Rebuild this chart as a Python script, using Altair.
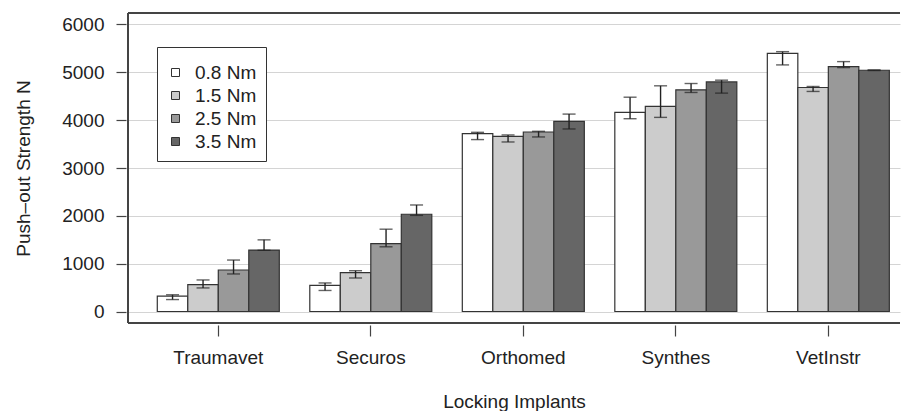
import altair as alt
import pandas as pd

groups = ["Traumavet", "Securos", "Orthomed", "Synthes", "VetInstr"]
levels = ["0.8 Nm", "1.5 Nm", "2.5 Nm", "3.5 Nm"]
colors = ["#ffffff", "#cccccc", "#999999", "#666666"]

means = [
    [320, 562, 868, 1284],
    [545, 812, 1421, 2033],
    [3719, 3663, 3753, 3975],
    [4162, 4287, 4634, 4800],
    [5396, 4683, 5120, 5043],
]
lows = [
    [250, 493, 785, 1280],
    [440, 701, 1353, 2010],
    [3594, 3544, 3649, 3816],
    [4030, 4058, 4579, 4565],
    [5155, 4600, 5099, 5038],
]
highs = [
    [350, 660, 1076, 1498],
    [597, 853, 1721, 2227],
    [3746, 3691, 3767, 4127],
    [4480, 4718, 4766, 4836],
    [5432, 4704, 5224, 5050],
]

rows = []
for gi, g in enumerate(groups):
    for li, lv in enumerate(levels):
        rows.append({"group": g, "level": lv, "mean": means[gi][li],
                     "lo": lows[gi][li], "hi": highs[gi][li]})
df = pd.DataFrame(rows)

FONT = "Liberation Sans"
FS = 19
W, H = 772, 310
ydom = [-240, 6240]

xscale = alt.Scale(domain=groups, paddingInner=0.2, paddingOuter=0.131, align=0.733)
xoff = alt.XOffset("level:N", sort=levels,
                   scale=alt.Scale(domain=levels, paddingInner=0, paddingOuter=0))
yscale = alt.Scale(domain=ydom, nice=False, zero=False)

xenc = alt.X("group:N", sort=groups, scale=xscale,
             axis=alt.Axis(title="Locking Implants", labelAngle=0, tickSize=11,
                           offset=2, labelPadding=12, titlePadding=25, domain=False,
                           grid=False, tickColor="#444", tickWidth=1.2))

base = alt.Chart(df)

bars = base.mark_bar(stroke="#333333", strokeWidth=1.2).encode(
    x=xenc,
    xOffset=xoff,
    y=alt.Y("mean:Q", scale=yscale,
            axis=alt.Axis(title="Push\u2013out Strength N", values=[0, 1000, 2000, 3000, 4000, 5000, 6000],
                          tickSize=10, offset=2, labelPadding=12, titlePadding=28,
                          domain=False, grid=True, gridColor="#d4d4d4", gridWidth=1.2,
                          tickColor="#444", tickWidth=1.2, format="d")),
    y2=alt.datum(0),
    fill=alt.Fill("level:N", sort=levels,
                  scale=alt.Scale(domain=levels, range=colors),
                  legend=alt.Legend(title=" ", titleFontSize=7, titlePadding=0,
                                    orient="none", legendX=29, legendY=34,
                                    symbolType="square", symbolSize=64,
                                    symbolStrokeColor="#333333", symbolStrokeWidth=1,
                                    labelFontSize=FS, labelFont=FONT, labelColor="#222",
                                    rowPadding=3, padding=9, labelOffset=10,
                                    strokeColor="#333333", fillColor="#ffffff")),
)

err = base.mark_rule(color="#222222", strokeWidth=1.4).encode(
    x=alt.X("group:N", sort=groups, scale=xscale),
    xOffset=xoff,
    y=alt.Y("lo:Q", scale=yscale),
    y2="hi:Q",
)

cap_hi = base.mark_tick(color="#222222", thickness=1.4, size=13).encode(
    x=alt.X("group:N", sort=groups, scale=xscale),
    xOffset=xoff,
    y=alt.Y("hi:Q", scale=yscale),
)
cap_lo = base.mark_tick(color="#222222", thickness=1.4, size=13).encode(
    x=alt.X("group:N", sort=groups, scale=xscale),
    xOffset=xoff,
    y=alt.Y("lo:Q", scale=yscale),
)

frame_top = base.mark_rule(color="#444444", strokeWidth=1.5).encode(
    y=alt.datum(ydom[1]))
frame_bot = base.mark_rule(color="#444444", strokeWidth=1.5).encode(
    y=alt.datum(ydom[0]))
frame_left = base.mark_rule(color="#444444", strokeWidth=1.5).encode(
    x=alt.value(0), y=alt.value(0), y2=alt.value(H))

chart = alt.layer(bars, err, cap_hi, cap_lo, frame_top, frame_bot, frame_left).properties(
    width=W, height=H,
    padding={"left": 6, "top": 4, "right": 0, "bottom": 0},
).configure_view(stroke=None).configure_axis(
    labelFont=FONT, titleFont=FONT, labelFontSize=FS, titleFontSize=FS,
    titleFontWeight="normal", labelColor="#222", titleColor="#222",
)

chart.save("out.html", embed_options={"renderer": "svg", "actions": False})
